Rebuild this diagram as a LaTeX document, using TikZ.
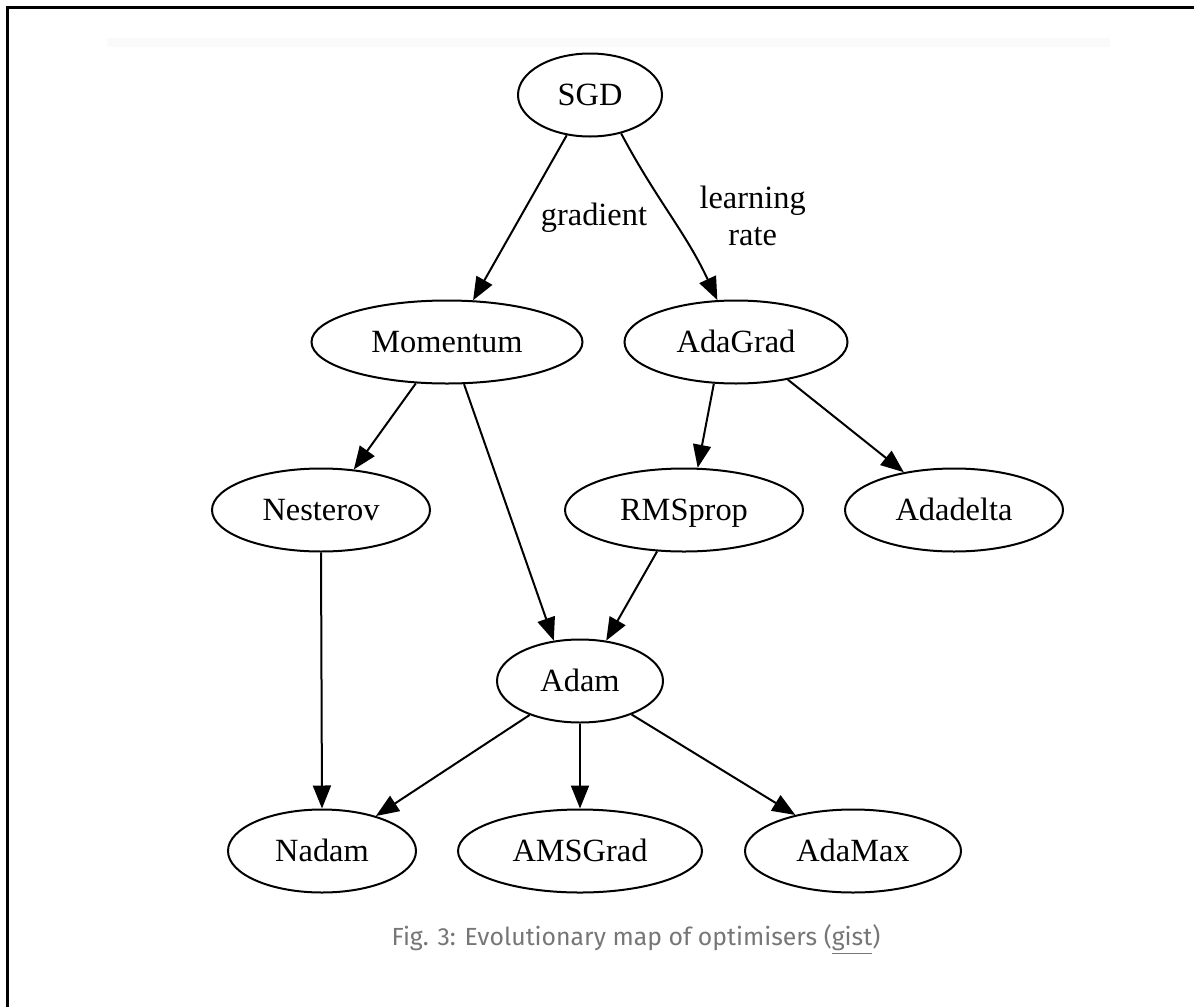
\documentclass[tikz,border=0pt]{standalone}
\usepackage{fontspec}
\setmainfont{Liberation Serif}
\newfontfamily\capfont{Fira Sans}
\usetikzlibrary{shapes.geometric,arrows.meta}
\definecolor{capgray}{HTML}{767676}
\definecolor{bandgray}{HTML}{FAFAFA}

\tikzset{
  opt/.style={draw, ellipse, line width=1pt, inner sep=0pt, minimum height=41.5pt,
    text height=10.8pt, text depth=0pt, font=\fontsize{16.2}{19}\selectfont},
  evo/.style={line width=1pt, -{Triangle[length=11.5pt,width=9pt]}},
  elabel/.style={font=\fontsize{16.2}{18.5}\selectfont, align=center, inner sep=0pt}
}

\begin{document}
\begin{tikzpicture}[x=0.5pt, y=-0.5pt]
    \useasboundingbox (0,0) rectangle (1194,1007);
    \fill[bandgray] (107,38) rectangle (1110,47);
    \draw[line width=1.5pt] (7,1007) -- (7,7) -- (1194,7);

    % optimisers, one rank per row
    \node[opt, minimum width=72pt] (sgd) at (590,95) {SGD};
    \node[opt, minimum width=135.5pt] (mom) at (447,342) {Momentum};
    \node[opt, minimum width=111.5pt] (adagrad) at (736,342) {AdaGrad};
    \node[opt, minimum width=109pt] (nest) at (321,510) {Nesterov};
    \node[opt, minimum width=119pt] (rms) at (684,510) {RMSprop};
    \node[opt, minimum width=109pt] (adadelta) at (954,510) {Adadelta};
    \node[opt, minimum width=83pt] (adam) at (580,681) {Adam};
    \node[opt, minimum width=94pt] (nadam) at (322,851) {Nadam};
    \node[opt, minimum width=122pt] (ams) at (580,851) {AMSGrad};
    \node[opt, minimum width=108pt] (adamax) at (853,851) {AdaMax};

    \draw[evo] (sgd.240) -- node[elabel, right=10pt] {gradient} (mom.58);
    \draw[evo] (sgd.309) to[out=-62, in=115] node[elabel, right=14pt] {learning\\rate} (adagrad.114);
    \draw[evo] (mom.233) -- (nest.51);
    \draw[evo] (mom.292) -- (adam.123);
    \draw[evo] (adagrad.242) -- (rms.72);
    \draw[evo] (adagrad.324) -- (adadelta.143);
    \draw[evo] (rms.237) -- (adam.57);
    \draw[evo] (nest.south) -- (nadam.north);
    \draw[evo] (adam.214) -- (nadam.33);
    \draw[evo] (adam.south) -- (ams.north);
    \draw[evo] (adam.327) -- (adamax.148);

    \node[anchor=base, text=capgray, font=\capfont\fontsize{12.4}{15}\selectfont] (cap) at (636,945)
      {Fig. 3: Evolutionary map of optimisers (\underline{gist})};
\end{tikzpicture}
\end{document}
